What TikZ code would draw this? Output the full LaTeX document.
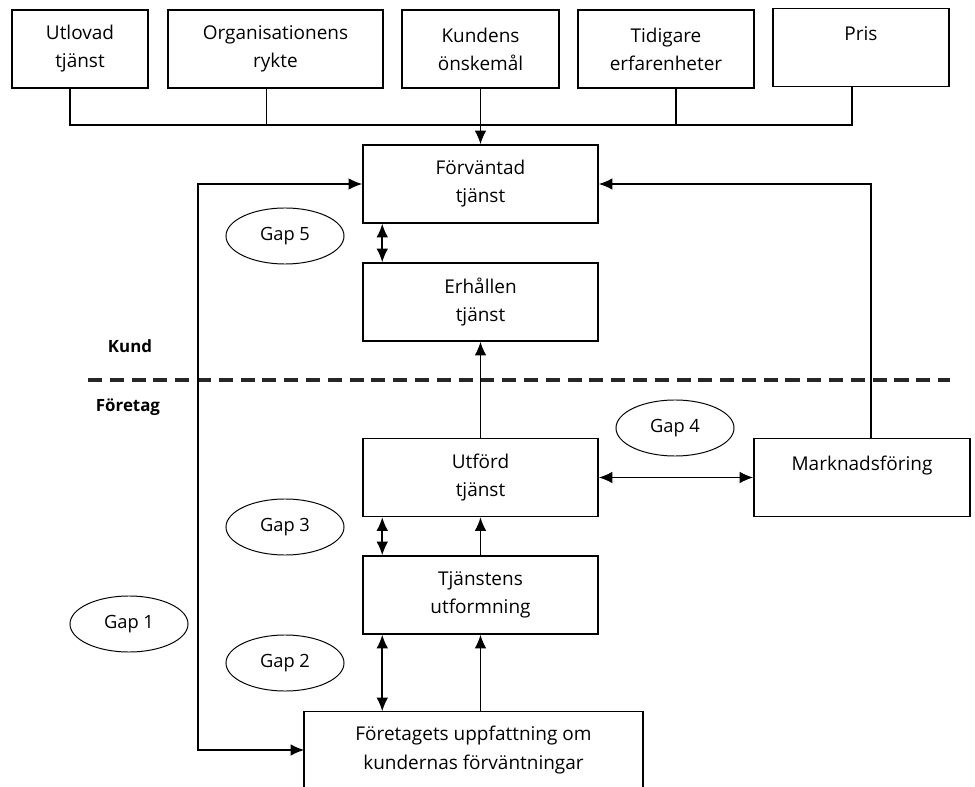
\documentclass[tikz,border=0pt]{standalone}
\usepackage{fontspec}
\setmainfont{Open Sans}
\usepackage{tikz}
\usetikzlibrary{positioning,calc,shapes.geometric,arrows.meta}
\tikzset{
box/.style={draw,line width=1pt,minimum height=1.95cm,inner sep=2pt,align=center,font=\fontsize{13.5}{20}\selectfont},
gap/.style={ellipse,draw,line width=0.7pt,minimum width=2.95cm,minimum height=1.4cm,inner sep=0pt,font=\fontsize{13}{15}\selectfont},
side/.style={font=\fontsize{12}{14}\selectfont\bfseries},
link/.style={line width=1.1pt},
onearrow/.style={link,-{Latex[length=3.4mm,width=2.9mm]}},
twoarrow/.style={link,{Latex[length=3.4mm,width=2.9mm]}-{Latex[length=3.4mm,width=2.9mm]}},
divider/.style={line width=2.2pt,dash pattern=on 10pt off 5.5pt,black!85}
}
\begin{document}
\begin{tikzpicture}[x=0.025cm,y=-0.025cm]
\useasboundingbox (0,0) rectangle (975,787);
% influences
\node[box,minimum width=3.4cm] (utl) at (80,49) {Utlovad\\tjänst};
\node[box,minimum width=5.375cm] (org) at (275.5,49) {Organisationens\\rykte};
\node[box,minimum width=3.925cm] (kon) at (480.5,49) {Kundens\\önskemål};
\node[box,minimum width=4.4cm] (tid) at (666,49) {Tidigare\\erfarenheter};
\node[box,minimum width=4.4cm] (pris) at (861,47.5) {Pris\\\mbox{}};
\coordinate (bus) at (480,125);
% kund side
\node[box,minimum width=5.875cm] (forv) at (480.5,184) {Förväntad\\tjänst};
\node[box,minimum width=5.875cm] (erh) at (480.5,302) {Erhållen\\tjänst};
% foretag side
\node[box,minimum width=5.875cm] (utf) at (480.5,477.5) {Utförd\\tjänst};
\node[box,minimum width=5.4cm] (mark) at (862,477.5) {Marknadsföring\\\mbox{}};
\node[box,minimum width=5.875cm] (tjan) at (480.5,595) {Tjänstens\\utformning};
\node[box,draw=none,minimum width=8.425cm,minimum height=1.9cm] (foret) at (473.5,750) {Företagets uppfattning om\\kundernas förväntningar};
\draw[link] (foret.south west) -- (foret.north west) -- (foret.north east) -- (foret.south east);
% labels
\node[side] (kund) at (130,346) {Kund};
\node[side] (ftg) at (128,407) {Företag};
\draw[divider] (88,380) -- (950,380);
\node[gap] (g5) at (285,236) {Gap 5};
\node[gap] (g4) at (675,428) {Gap 4};
\node[gap] (g3) at (285,527) {Gap 3};
\node[gap] (g1) at (129,624) {Gap 1};
\node[gap] (g2) at (285,663) {Gap 2};
% connectors
\coordinate (utlfoot) at ($(utl.south)+(-10,0)$);
\coordinate (orgfoot) at ($(org.south)+(-9,0)$);
\coordinate (tidfoot) at ($(tid.south)+(10,0)$);
\coordinate (prisfoot) at ($(pris.south)+(-9,0)$);
\coordinate (markfoot) at ($(mark.north)+(9,0)$);
\coordinate (g2top) at ($(tjan.south west)+(20,0)$);
\draw[link] (utlfoot) |- (bus) -| (prisfoot);
\draw[link] (orgfoot) -- (orgfoot |- bus);
\draw[link] (tidfoot) -- (tidfoot |- bus);
\draw[onearrow] (kon.south) -- (forv.north);
\draw[twoarrow] (forv.west) -- ++(-164,0) |- (foret.west);
\draw[onearrow] (markfoot) |- (forv.east);
\draw[twoarrow] ($(forv.south west)+(20,0)$) -- ($(erh.north west)+(20,0)$);
\draw[onearrow] (utf.north) -- (erh.south);
\draw[twoarrow] (utf.east) -- (mark.west);
\draw[twoarrow] ($(utf.south west)+(20,0)$) -- ($(tjan.north west)+(20,0)$);
\draw[onearrow] (tjan.north) -- (utf.south);
\draw[twoarrow] (g2top) -- (g2top |- foret.north);
\draw[onearrow] (tjan.south |- foret.north) -- (tjan.south);
\end{tikzpicture}
\end{document}
